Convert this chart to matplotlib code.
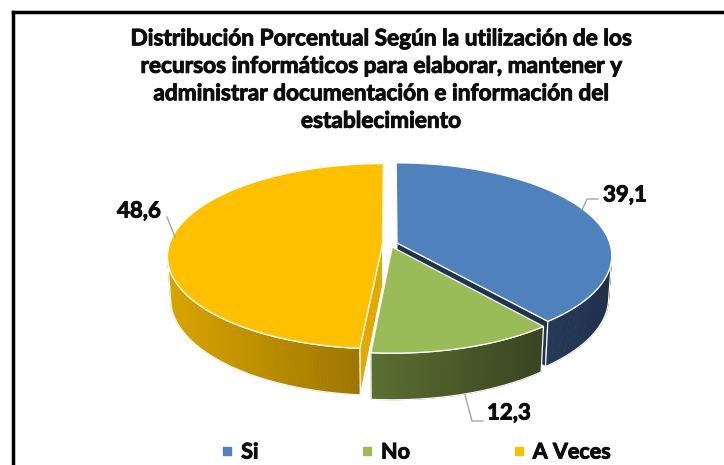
import numpy as np
import matplotlib
matplotlib.use("Agg")
import matplotlib.pyplot as plt
from matplotlib.patches import Polygon
from matplotlib.lines import Line2D
import matplotlib.patheffects as pe

# ---------------- data ----------------
categories = ["Si", "No", "A Veces"]
values = [39.1, 12.3, 48.6]
value_labels = ["39,1", "12,3", "48,6"]
title = ("Distribución Porcentual Según la utilización de los\n"
         "recursos informáticos para elaborar, mantener y\n"
         "administrar documentación e información del\n"
         "establecimiento")

# ---------------- style ----------------
top_colors = ["#4F81BD", "#9BBB59", "#FFC000"]
wall_light = ["#25395A", "#5A6F31", "#D8A400"]
wall_dark = ["#1E304B", "#394421", "#9C7600"]
face_colors = ["#1F3350", "#3D4A22", "#E2A900"]
FONT = "Lato"
TXT = "#0D0D0D"
heavy = [pe.withStroke(linewidth=0.7, foreground=TXT)]

W, H = 724, 465
fig = plt.figure(figsize=(W / 100, H / 100), dpi=100)
ax = fig.add_axes([0, 0, 1, 1])
ax.set_xlim(0, W)
ax.set_ylim(H, 0)
ax.axis("off")

# camera / projection of a 3D cylinder (perspective)
cx, cy = 390.0, 244.0
D = 6.76
elev = np.radians(25.3)
ce, se = np.cos(elev), np.sin(elev)
S = 213.0 * D
h = 0.22
explode = 0.035


def proj(X, Y, Z):
    X = np.asarray(X, float); Y = np.asarray(Y, float); Z = np.asarray(Z, float)
    depth = D + Y * ce - Z * se
    u = S * X / depth
    w = S * (Y * se + Z * ce) / depth
    return cx + u, cy - w


def lerp(c1, c2, t):
    a = np.array(matplotlib.colors.to_rgb(c1))
    b = np.array(matplotlib.colors.to_rgb(c2))
    return tuple(a + (b - a) * t)


total = float(sum(values))
fr = np.array(values) / total
ends = np.cumsum(fr) * 360.0
starts = ends - fr * 360.0

vis_cos = -1.0 / (D * ce)  # walls visible where cos(a) < vis_cos

slices = []
for i in range(len(values)):
    a1, a2 = starts[i], ends[i]
    mid = np.radians((a1 + a2) / 2)
    ox, oy = explode * np.sin(mid), explode * np.cos(mid)
    slices.append((i, a1, a2, ox, oy))

# paint back to front
order = sorted(slices, key=lambda s: -np.cos(np.radians((s[1] + s[2]) / 2)))

cam = np.array([0.0, -D * ce, D * se])

for (i, a1, a2, ox, oy) in order:
    # cut faces
    for ang, sign in ((a1, -1), (a2, 1)):
        r = np.radians(ang)
        if sign < 0:
            n = np.array([-np.cos(r), np.sin(r), 0.0])
        else:
            n = np.array([np.cos(r), -np.sin(r), 0.0])
        P = np.array([ox + 0.5 * np.sin(r), oy + 0.5 * np.cos(r), -h / 2])
        if np.dot(n, cam - P) > 0:
            Xs = [ox, ox + np.sin(r), ox + np.sin(r), ox]
            Ys = [oy, oy + np.cos(r), oy + np.cos(r), oy]
            Zs = [0, 0, -h, -h]
            px, py = proj(Xs, Ys, Zs)
            ax.add_patch(Polygon(np.c_[px, py], closed=True, fc=face_colors[i],
                                 ec="white", lw=0.8, zorder=2))
    # outer wall
    angs = np.linspace(a1, a2, 200)
    vis = np.cos(np.radians(angs)) < vis_cos
    if vis.any():
        va = angs[vis]
        r = np.radians(va)
        Xt = ox + np.sin(r); Yt = oy + np.cos(r)
        tx, ty = proj(Xt, Yt, np.zeros_like(r))
        bx, by = proj(Xt, Yt, -h * np.ones_like(r))
        xmin, xmax = min(tx.min(), bx.min()), max(tx.max(), bx.max())
        for k in range(len(va) - 1):
            xm = (tx[k] + tx[k + 1]) / 2
            t = (xm - xmin) / max(xmax - xmin, 1e-6)
            col = lerp(wall_light[i], wall_dark[i], t)
            quad = [(tx[k], ty[k]), (tx[k + 1], ty[k + 1]), (bx[k + 1], by[k + 1]), (bx[k], by[k])]
            ax.add_patch(Polygon(quad, closed=True, fc=col, ec=col, lw=0.6, zorder=3))
        outline = np.r_[np.c_[tx, ty], np.c_[bx, by][::-1]]
        ax.add_patch(Polygon(outline, closed=True, fill=False, ec="white", lw=0.9, zorder=3.5))

for (i, a1, a2, ox, oy) in order:
    angs = np.radians(np.linspace(a1, a2, 200))
    Xs = np.r_[ox, ox + np.sin(angs)]
    Ys = np.r_[oy, oy + np.cos(angs)]
    px, py = proj(Xs, Ys, np.zeros_like(Xs))
    ax.add_patch(Polygon(np.c_[px, py], closed=True, fc=top_colors[i], ec="white",
                         lw=0.9, zorder=4))

# data labels with leader lines
lc = "#A6A6A6"
ax.plot([598, 587, 582], [199, 199, 210], color=lc, lw=1.0, zorder=5)
ax.plot([167, 175], [217, 237], color=lc, lw=1.0, zorder=5)
ax.plot([465, 472, 483], [395, 421, 421], color=lc, lw=1.0, zorder=5)
label_pos = {0: (603, 195), 1: (487, 413), 2: (117, 211)}
for i, lab in enumerate(value_labels):
    x, y = label_pos[i]
    ax.text(x, y, lab, ha="left", va="center", fontsize=16, fontweight="bold",
            family=FONT, color=TXT, zorder=6, path_effects=heavy)

# title
ax.text(381, 80, title, ha="center", va="center", fontsize=16.3, fontweight="bold",
        family=FONT, color=TXT, linespacing=1.38, path_effects=heavy)

# legend
handles = [Line2D([], [], marker="s", ls="", color=c, markersize=6) for c in top_colors]
leg = ax.legend(handles, categories, loc="center", bbox_to_anchor=(415 / W, 1 - 452 / H),
                bbox_transform=fig.transFigure, ncol=3, frameon=False,
                prop={"family": FONT, "weight": "bold", "size": 15.5},
                columnspacing=4.7, handletextpad=0.3, handlelength=0.7, borderpad=0)
for t in leg.get_texts():
    t.set_color(TXT)
    t.set_path_effects(heavy)

# chart frame (only left and top edges visible)
ax.plot([13, 13], [H + 5, 12], color="black", lw=2.5, solid_capstyle="projecting")
ax.plot([13, W + 5], [12, 12], color="black", lw=2.5, solid_capstyle="projecting")

fig.savefig("out.png", dpi=100)
